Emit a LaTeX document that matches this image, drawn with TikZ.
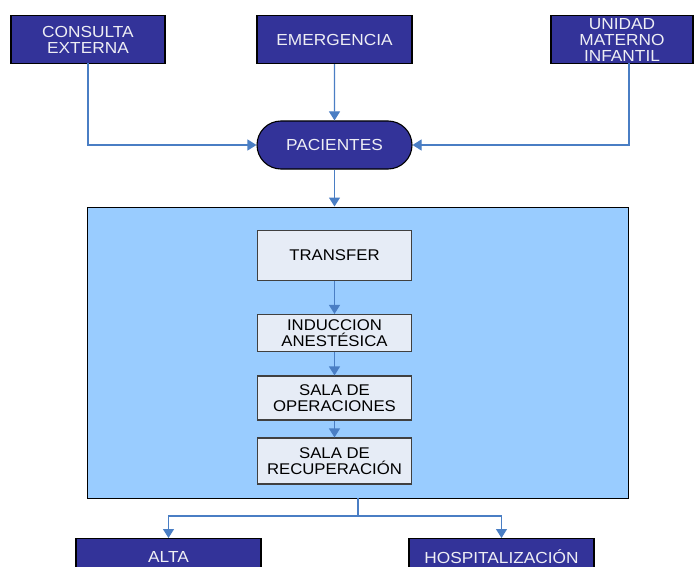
\documentclass[tikz,border=0pt]{standalone}
\usepackage{fontspec}
\setmainfont[FakeStretch=1.08]{Liberation Sans}
\usetikzlibrary{arrows.meta,shapes.misc}
\definecolor{darkbox}{HTML}{333399}
\definecolor{conn}{HTML}{4A7EC4}
\definecolor{bigfill}{HTML}{99CCFF}
\definecolor{innerfill}{HTML}{E6ECF6}
\definecolor{lighttext}{HTML}{EEEEF4}
\tikzset{
  darknode/.style={draw=black, line width=1.1pt, fill=darkbox, text=lighttext, align=center,
    inner sep=0pt, font=\fontsize{16}{16}\selectfont},
  innernode/.style={draw=black!75, line width=1.1pt, fill=innerfill, text=black, align=center,
    inner sep=0pt, minimum width=154pt, font=\fontsize{15.5}{16.5}\selectfont},
  bignode/.style={draw=black, line width=1pt, fill=bigfill, inner sep=0pt},
  link/.style={draw=conn, line width=1.1pt, -{Triangle[width=11pt,length=9pt]}},
  plainlink/.style={draw=conn, line width=1.1pt}
}
\begin{document}
\begin{tikzpicture}[x=1pt,y=-1pt]
\useasboundingbox (0,0) rectangle (696,567);
\clip (0,0) rectangle (696,567);
\fill[white] (0,0) rectangle (696,567);
% top sources
\node[darknode, minimum width=154pt, minimum height=48pt] (ce) at (88,39.5) {CONSULTA\\EXTERNA};
\node[darknode, minimum width=155pt, minimum height=48pt] (em) at (334.5,39.5) {EMERGENCIA};
\node[darknode, minimum width=142pt, minimum height=48pt] (umi) at (622,39.5) {UNIDAD\\MATERNO\\INFANTIL};
% pacientes
\node[darknode, rounded rectangle, minimum width=155pt, minimum height=48pt] (pac) at (334.5,145) {PACIENTES};
% big box
\node[bignode, minimum width=541pt, minimum height=291pt] (big) at (357.5,352.5) {};
% inner steps
\node[innernode, minimum height=50pt] (tr) at (334.5,255.5) {TRANSFER};
\node[innernode, minimum height=37pt] (ind) at (334.5,333) {INDUCCION\\ANESTÉSICA};
\node[innernode, minimum height=44pt] (op) at (334.5,398) {SALA DE\\OPERACIONES};
\node[innernode, minimum height=46pt] (rec) at (334.5,461) {SALA DE\\RECUPERACIÓN};
% outputs
\node[darknode, minimum width=185pt, minimum height=36pt, anchor=north] (alta) at (168.5,538) {ALTA};
\node[darknode, minimum width=185pt, minimum height=36pt, anchor=north] (hosp) at (501.5,538) {HOSPITALIZACIÓN};
% coordinates
\coordinate (ceb) at (88,63.5);
\coordinate (umib) at (629,63.5);
\coordinate (bigout) at (358,498);
\coordinate (split) at (358,516);
% connectors
\draw[link] (ceb) |- (pac.west);
\draw[link] (em) -- (pac);
\draw[link] (umib) |- (pac.east);
\draw[link] (pac.south) -- (pac.south |- big.north);
\draw[link] (tr) -- (ind);
\draw[link] (ind) -- (op);
\draw[link] (op) -- (rec);
\draw[plainlink] (bigout) -- (split);
\draw[link] (split) -| (alta.north);
\draw[link] (split) -| (hosp.north);
\end{tikzpicture}
\end{document}
